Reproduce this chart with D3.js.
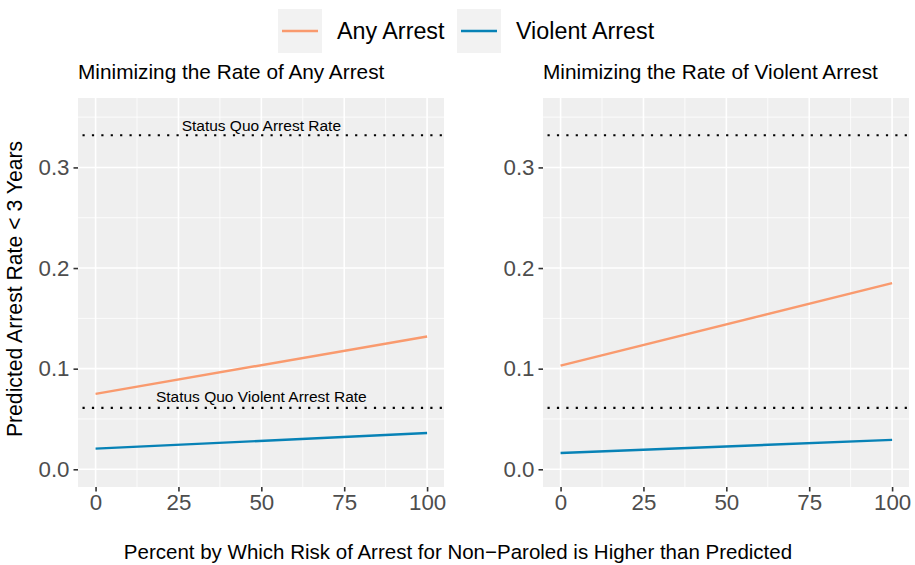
<!DOCTYPE html>
<html>
<head>
<meta charset="utf-8">
<script src="https://cdn.jsdelivr.net/npm/d3@7"></script>
<style>
  html, body { margin: 0; padding: 0; background: #fff; }
  svg { display: block; font-family: "Liberation Sans", Arial, sans-serif; }
</style>
</head>
<body>
<svg id="chart" width="915" height="565"></svg>
<script>
// Percent by which non-paroled risk exceeds prediction (line endpoints)
const xValues = [0, 100];
const xTicks = [0, 25, 50, 75, 100];
const yTicks = [0, 0.1, 0.2, 0.3];

const panelTitles = ["Minimizing the Rate of Any Arrest", "Minimizing the Rate of Violent Arrest"];
const seriesNames = ["Any Arrest", "Violent Arrest"];
const seriesColors = ["#f99a6e", "#0782b6"];

// Predicted arrest rate < 3 years, per panel
const anyArrestMinAny = [0.075, 0.132];
const violentArrestMinAny = [0.0205, 0.036];
const anyArrestMinViolent = [0.103, 0.185];
const violentArrestMinViolent = [0.0162, 0.0292];

// Status quo reference rates
const statusQuoArrestRate = 0.332;
const statusQuoViolentRate = 0.061;
const refLabels = ["Status Quo Arrest Rate", "Status Quo Violent Arrest Rate"];
const refLabelY = [0.342, 0.072];

const panels = [
  { title: panelTitles[0], left: 78, series: [anyArrestMinAny, violentArrestMinAny], labels: true },
  { title: panelTitles[1], left: 543, series: [anyArrestMinViolent, violentArrestMinViolent], labels: false }
];

const svg = d3.select("#chart");
const panelW = 366, panelTop = 98, panelBottom = 487;
const y = d3.scaleLinear().domain([-0.0176, 0.369]).range([panelBottom, panelTop]);

panels.forEach(p => {
  const x = d3.scaleLinear().domain([-5.3, 105.1]).range([p.left, p.left + panelW]);
  const g = svg.append("g");

  g.append("rect").attr("x", p.left).attr("y", panelTop)
    .attr("width", panelW).attr("height", panelBottom - panelTop).attr("fill", "#efefef");

  // minor grid
  const xMinor = [12.5, 37.5, 62.5, 87.5];
  const yMinor = [0.05, 0.15, 0.25, 0.35];
  g.selectAll(".xmin").data(xMinor).join("line")
    .attr("x1", d => x(d)).attr("x2", d => x(d)).attr("y1", panelTop).attr("y2", panelBottom)
    .attr("stroke", "#fff").attr("stroke-width", 0.8);
  g.selectAll(".ymin").data(yMinor).join("line")
    .attr("y1", d => y(d)).attr("y2", d => y(d)).attr("x1", p.left).attr("x2", p.left + panelW)
    .attr("stroke", "#fff").attr("stroke-width", 0.8);
  // major grid
  g.selectAll(".xmaj").data(xTicks).join("line")
    .attr("x1", d => x(d)).attr("x2", d => x(d)).attr("y1", panelTop).attr("y2", panelBottom)
    .attr("stroke", "#fff").attr("stroke-width", 1.6);
  g.selectAll(".ymaj").data(yTicks).join("line")
    .attr("y1", d => y(d)).attr("y2", d => y(d)).attr("x1", p.left).attr("x2", p.left + panelW)
    .attr("stroke", "#fff").attr("stroke-width", 1.6);

  // reference lines
  [statusQuoArrestRate, statusQuoViolentRate].forEach(v => {
    g.append("line").attr("x1", p.left).attr("x2", p.left + panelW)
      .attr("y1", y(v)).attr("y2", y(v))
      .attr("stroke", "#000").attr("stroke-width", 2.2)
      .attr("stroke-dasharray", "2.2,7.2").attr("stroke-dashoffset", -4.5);
  });

  if (p.labels) {
    refLabels.forEach((t, i) => {
      g.append("text").attr("x", x(50)).attr("y", y(refLabelY[i]))
        .attr("dy", "0.35em").attr("text-anchor", "middle")
        .attr("font-size", 15.5).attr("fill", "#000").text(t);
    });
  }

  // series lines
  const line = d3.line().x((d, i) => x(xValues[i])).y(d => y(d));
  p.series.forEach((s, i) => {
    g.append("path").datum(s).attr("d", line)
      .attr("fill", "none").attr("stroke", seriesColors[i]).attr("stroke-width", 2.4);
  });

  // axes
  const yAxis = g.append("g").attr("transform", `translate(${p.left},0)`)
    .call(d3.axisLeft(y).tickValues(yTicks).tickFormat(d3.format(".1f")).tickSize(4.5).tickPadding(4));
  const xAxis = g.append("g").attr("transform", `translate(0,${panelBottom})`)
    .call(d3.axisBottom(x).tickValues(xTicks).tickFormat(d3.format("d")).tickSize(4.5).tickPadding(3));
  [yAxis, xAxis].forEach(a => {
    a.select(".domain").remove();
    a.selectAll(".tick line").attr("stroke", "#333").attr("stroke-width", 1.6);
    a.selectAll(".tick text").attr("fill", "#4d4d4d").attr("font-size", 22.3)
      .attr("font-family", "Liberation Sans, Arial, sans-serif");
  });

  g.append("text").attr("x", p.left).attr("y", 79)
    .attr("font-size", 20.8).attr("fill", "#000").text(p.title);
});

// axis titles
svg.append("text").attr("x", 458).attr("y", 559).attr("text-anchor", "middle")
  .attr("font-size", 20.5).attr("fill", "#000")
  .text("Percent by Which Risk of Arrest for Non\u2212Paroled is Higher than Predicted");
svg.append("text").attr("transform", "translate(22,289) rotate(-90)").attr("text-anchor", "middle")
  .attr("font-size", 21.2).attr("fill", "#000").text("Predicted Arrest Rate < 3 Years");

// legend
const legendX = [278, 457];
seriesNames.forEach((name, i) => {
  const lg = svg.append("g").attr("transform", `translate(${legendX[i]},9)`);
  lg.append("rect").attr("width", 44).attr("height", 44).attr("fill", "#f2f2f2");
  lg.append("line").attr("x1", 4).attr("x2", 40).attr("y1", 22).attr("y2", 22)
    .attr("stroke", seriesColors[i]).attr("stroke-width", 2.6);
  lg.append("text").attr("x", 59).attr("y", 22).attr("dy", "0.35em")
    .attr("font-size", 23.3).attr("fill", "#000").text(name);
});
</script>
</body>
</html>
